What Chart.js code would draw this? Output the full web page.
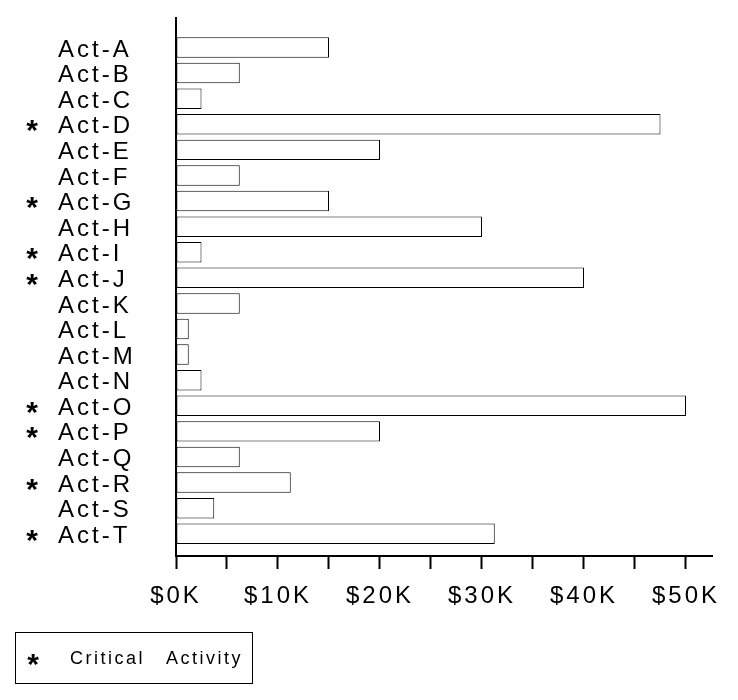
<!DOCTYPE html>
<html>
<head>
<meta charset="utf-8">
<script src="https://cdn.jsdelivr.net/npm/chart.js@4/dist/chart.umd.min.js"></script>
<style>
  html, body { margin: 0; padding: 0; background: #ffffff; }
  #wrap { width: 738px; height: 700px; }
</style>
</head>
<body>
<div id="wrap"><canvas id="c" width="738" height="700"></canvas></div>
<script>
// ---- data ----
const categories = ['Act-A','Act-B','Act-C','Act-D','Act-E','Act-F','Act-G','Act-H','Act-I','Act-J',
                    'Act-K','Act-L','Act-M','Act-N','Act-O','Act-P','Act-Q','Act-R','Act-S','Act-T'];
const costValues = [15000, 6250, 2500, 47500, 20000, 6250, 15000, 30000, 2500, 40000,
                    6250, 1250, 1250, 2500, 50000, 20000, 6250, 11250, 3750, 31250];
const criticalActivities = ['Act-D','Act-G','Act-I','Act-J','Act-O','Act-P','Act-R','Act-T'];
const xTickValues = [0, 10000, 20000, 30000, 40000, 50000];
const legendLabel = ['Critical', 'Activity'];
const criticalMark = '*';

const FONT = '"Liberation Sans", Arial, Helvetica, sans-serif';

const points = categories.map((c, i) => ({ x: costValues[i], y: i }));

function drawStar(ctx, cx, cy) {
  const m = ctx.measureText(criticalMark);
  const asc = m.actualBoundingBoxAscent, desc = m.actualBoundingBoxDescent;
  // place glyph so that its visual centre sits at cy
  ctx.fillText(criticalMark, cx, cy + (asc - desc) / 2);
}

const decoPlugin = {
  id: 'deco',
  beforeDraw(chart) {
    chart.ctx.letterSpacing = '3px';
  },
  afterDraw(chart) {
    const ctx = chart.ctx;
    const ys = chart.scales.y;
    ctx.save();
    ctx.letterSpacing = '0px';
    ctx.fillStyle = '#000';
    ctx.font = 'bold 30px ' + FONT;
    ctx.textAlign = 'center';
    ctx.textBaseline = 'alphabetic';
    categories.forEach((c, i) => {
      if (criticalActivities.includes(c)) {
        drawStar(ctx, 32, ys.getPixelForValue(i) + 2);
      }
    });
    // legend box
    ctx.strokeStyle = '#000';
    ctx.lineWidth = 1;
    ctx.strokeRect(15.5, 632.5, 237, 51);
    drawStar(ctx, 33, 660);
    ctx.font = '18px ' + FONT;
    ctx.letterSpacing = '2.5px';
    ctx.textAlign = 'left';
    ctx.textBaseline = 'middle';
    ctx.fillText(legendLabel[0], 70, 659);
    ctx.fillText(legendLabel[1], 166, 659);
    ctx.restore();
  }
};

new Chart(document.getElementById('c'), {
  type: 'bar',
  data: {
    datasets: [{
      data: points,
      backgroundColor: '#ffffff',
      borderColor: '#000000',
      borderWidth: 1,
      borderSkipped: false,
      barPercentage: 0.8,
      categoryPercentage: 1.0
    }]
  },
  options: {
    indexAxis: 'y',
    responsive: false,
    animation: false,
    layout: { padding: { top: 18, left: 58, right: 26, bottom: 0 } },
    plugins: { legend: { display: false }, tooltip: { enabled: false } },
    scales: {
      x: {
        type: 'linear',
        position: 'bottom',
        offset: false,
        min: 0,
        max: 52550,
        afterBuildTicks(scale) {
          const t = [];
          for (let v = 0; v <= 50000; v += 5000) t.push({ value: v });
          scale.ticks = t;
        },
        afterFit(scale) {
          scale.height = 144;
          scale.paddingLeft = 0;
          scale.paddingRight = 0;
        },
        grid: { drawOnChartArea: false, drawTicks: true, tickLength: 13, tickWidth: 2, tickColor: '#000' },
        border: { display: true, color: '#000', width: 2 },
        ticks: {
          autoSkip: false,
          maxRotation: 0,
          padding: 13,
          color: '#000',
          font: { family: FONT, size: 24 },
          callback: (v) => xTickValues.includes(v) ? '$' + (v / 1000) + 'K' : ''
        }
      },
      y: {
        type: 'linear',
        position: 'left',
        offset: false,
        reverse: true,
        min: -1.153,
        max: 19.87,
        afterBuildTicks(scale) {
          scale.ticks = categories.map((c, i) => ({ value: i }));
        },
        afterFit(scale) {
          scale.width = 118;
          scale.paddingTop = 0;
          scale.paddingBottom = 0;
        },
        grid: { display: false, drawTicks: false },
        border: { display: true, color: '#000', width: 2 },
        ticks: {
          autoSkip: false,
          crossAlign: 'far',
          labelOffset: 2.5,
          color: '#000',
          font: { family: FONT, size: 24 },
          callback: (v) => categories[v] !== undefined ? categories[v] : ''
        }
      }
    }
  },
  plugins: [decoPlugin]
});
</script>
</body>
</html>
